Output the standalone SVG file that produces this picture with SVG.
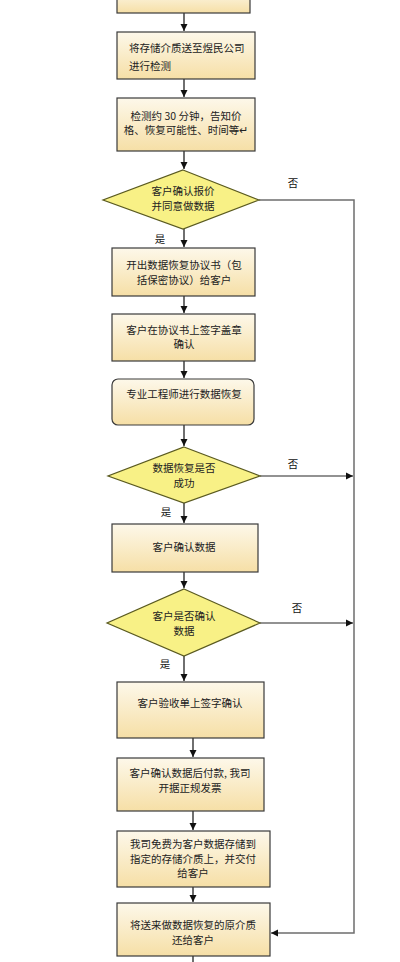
<svg xmlns="http://www.w3.org/2000/svg" width="400" height="962" viewBox="0 0 400 962">
<defs>
<linearGradient id="bg" x1="0" y1="0" x2="0" y2="1">
<stop offset="0" stop-color="#fdf8ea"/>
<stop offset="1" stop-color="#f6dfa6"/>
</linearGradient>
<marker id="ah" markerWidth="8" markerHeight="8" refX="7" refY="4" orient="auto" markerUnits="userSpaceOnUse">
<path d="M0,0.5 L7,4 L0,7.5 Z" fill="#111"/>
</marker>
<style>
.box{fill:url(#bg);stroke:#3a3a3a;stroke-width:1.2}
.dia{fill:#f8f186;stroke:#5a5a20;stroke-width:1.2}
.t{font-family:"Noto Sans CJK SC","Liberation Sans",sans-serif;font-size:10.5px;fill:#222;text-anchor:middle}
.lbl{font-family:"Noto Sans CJK SC","Liberation Sans",sans-serif;font-size:10.5px;fill:#111;text-anchor:middle}
.c{fill:none;stroke:#222;stroke-width:1.3}
.g{fill:none;stroke:#6e6e6e;stroke-width:1.5}
</style>
</defs>
<rect width="400" height="962" fill="#ffffff"/>
<g id="connectors">
<path class="c" d="M184,13 V31" marker-end="url(#ah)"/>
<path class="c" d="M184,79 V97" marker-end="url(#ah)"/>
<path class="c" d="M184,151 V169" marker-end="url(#ah)"/>
<path class="c" d="M184,229 V247" marker-end="url(#ah)"/>
<path class="c" d="M184,296 V313" marker-end="url(#ah)"/>
<path class="c" d="M184,361 V378" marker-end="url(#ah)"/>
<path class="c" d="M184,425 V446" marker-end="url(#ah)"/>
<path class="c" d="M184,503 V523" marker-end="url(#ah)"/>
<path class="c" d="M184,572 V588" marker-end="url(#ah)"/>
<path class="c" d="M184,656 V681" marker-end="url(#ah)"/>
<path class="c" d="M193,738 V757" marker-end="url(#ah)"/>
<path class="c" d="M193,811 V830" marker-end="url(#ah)"/>
<path class="c" d="M193,887 V902" marker-end="url(#ah)"/>
<path class="c" d="M193,956 V962"/>
<path class="g" d="M259,200 H354 V933 H271" marker-end="url(#ah)"/>
<path class="g" d="M260,476 H353" marker-end="url(#ah)"/>
<path class="g" d="M260,623 H353" marker-end="url(#ah)"/>
<text class="lbl" x="293" y="187">否</text>
<text class="lbl" x="160" y="243">是</text>
<text class="lbl" x="293" y="468">否</text>
<text class="lbl" x="166" y="516">是</text>
<text class="lbl" x="297" y="612">否</text>
<text class="lbl" x="165" y="668">是</text>
</g>
<g id="n0"><rect class="box" x="117" y="-10" width="133" height="23"/></g>
<g id="n1"><rect class="box" x="117" y="32" width="138" height="47"/>
<text class="t" x="129" y="52" style="text-anchor:start">将存储介质送至煜民公司</text>
<text class="t" x="129" y="70" style="text-anchor:start">进行检测</text></g>
<g id="n2"><rect class="box" x="117" y="98" width="138" height="53"/>
<text class="t" x="186" y="120">检测约 30 分钟，告知价</text>
<text class="t" x="186" y="134">格、恢复可能性、时间等↵</text></g>
<g id="n3"><polygon class="dia" points="183,170 259,200 183,229 103,200"/>
<text class="t" x="183" y="195">客户确认报价</text>
<text class="t" x="183" y="210">并同意做数据</text></g>
<g id="n4"><rect class="box" x="112" y="248" width="143" height="48"/>
<text class="t" x="184" y="269">开出数据恢复协议书（包</text>
<text class="t" x="184" y="284">括保密协议）给客户</text></g>
<g id="n5"><rect class="box" x="112" y="314" width="143" height="47"/>
<text class="t" x="184" y="334">客户在协议书上签字盖章</text>
<text class="t" x="184" y="348">确认</text></g>
<g id="n6"><rect class="box" x="112" y="379" width="142" height="46" rx="6"/>
<text class="t" x="184" y="398">专业工程师进行数据恢复</text></g>
<g id="n7"><polygon class="dia" points="184,447 260,476 184,503 108,476"/>
<text class="t" x="184" y="472">数据恢复是否</text>
<text class="t" x="184" y="487">成功</text></g>
<g id="n8"><rect class="box" x="112" y="524" width="146" height="48"/>
<text class="t" x="184" y="551">客户确认数据</text></g>
<g id="n9"><polygon class="dia" points="184,589 260,623 184,656 107,623"/>
<text class="t" x="184" y="620">客户是否确认</text>
<text class="t" x="184" y="635">数据</text></g>
<g id="n10"><rect class="box" x="117" y="682" width="147" height="56"/>
<text class="t" x="190" y="707">客户验收单上签字确认</text></g>
<g id="n11"><rect class="box" x="117" y="758" width="147" height="53"/>
<text class="t" x="190" y="777">客户确认数据后付款, 我司</text>
<text class="t" x="190" y="792">开据正规发票</text></g>
<g id="n12"><rect class="box" x="117" y="831" width="153" height="56"/>
<text class="t" x="193" y="848">我司免费为客户数据存储到</text>
<text class="t" x="193" y="863">指定的存储介质上，并交付</text>
<text class="t" x="193" y="877">给客户</text></g>
<g id="n13"><rect class="box" x="117" y="903" width="153" height="53"/>
<text class="t" x="193" y="929">将送来做数据恢复的原介质</text>
<text class="t" x="193" y="944">还给客户</text></g>
</svg>
